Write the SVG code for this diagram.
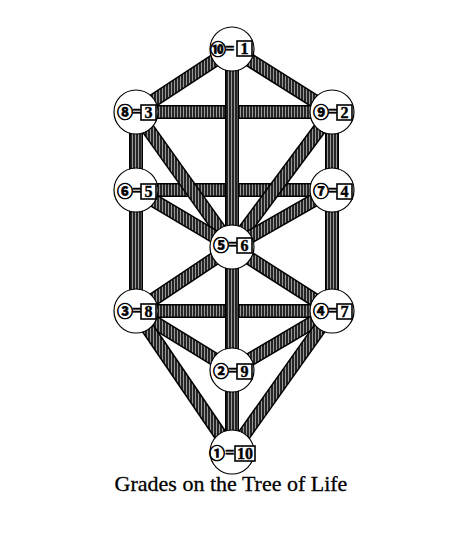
<svg xmlns="http://www.w3.org/2000/svg" width="460" height="555" viewBox="0 0 460 555">
<defs>
<pattern id="hatch" width="3" height="3" patternUnits="userSpaceOnUse"><rect width="3" height="3" fill="#262626"/><rect width="1" height="3" fill="#999"/></pattern>
</defs>
<style>
.o{stroke:#000;stroke-width:14;fill:none}
.f{stroke:url(#hatch);stroke-width:11;fill:none}
.node circle{fill:#fff;stroke:#000;stroke-width:1.2}
.cn{font-family:"Noto Sans CJK JP","DejaVu Sans",sans-serif;font-size:16px;font-weight:bold;fill:#000;stroke:#000;stroke-width:0.7}
.eq{font-family:"Liberation Serif",serif;font-size:17px;font-weight:bold;fill:#000;stroke:#000;stroke-width:0.4}
.bx{fill:#fff;stroke:#000;stroke-width:1.6}
.dg{font-family:"Liberation Serif",serif;font-size:16px;font-weight:bold;fill:#000;stroke:#000;stroke-width:0.4;text-anchor:middle}
.cap{font-family:"Liberation Serif",serif;font-size:22px;fill:#000;stroke:#000;stroke-width:0.3;text-anchor:middle}
</style>
<g id="connectors">
<line class="o" x1="136" y1="112" x2="332" y2="112"/><line class="f" x1="136" y1="112" x2="332" y2="112"/>
<line class="o" x1="136" y1="190" x2="332" y2="190"/><line class="f" x1="136" y1="190" x2="332" y2="190"/>
<line class="o" x1="136" y1="311" x2="332" y2="311"/><line class="f" x1="136" y1="311" x2="332" y2="311"/>
<line class="o" x1="232" y1="49" x2="136" y2="112"/><line class="f" x1="232" y1="49" x2="136" y2="112"/>
<line class="o" x1="232" y1="49" x2="332" y2="112"/><line class="f" x1="232" y1="49" x2="332" y2="112"/>
<line class="o" x1="136" y1="112" x2="232" y2="247"/><line class="f" x1="136" y1="112" x2="232" y2="247"/>
<line class="o" x1="332" y1="112" x2="232" y2="247"/><line class="f" x1="332" y1="112" x2="232" y2="247"/>
<line class="o" x1="136" y1="190" x2="232" y2="247"/><line class="f" x1="136" y1="190" x2="232" y2="247"/>
<line class="o" x1="332" y1="190" x2="232" y2="247"/><line class="f" x1="332" y1="190" x2="232" y2="247"/>
<line class="o" x1="136" y1="311" x2="232" y2="247"/><line class="f" x1="136" y1="311" x2="232" y2="247"/>
<line class="o" x1="332" y1="311" x2="232" y2="247"/><line class="f" x1="332" y1="311" x2="232" y2="247"/>
<line class="o" x1="136" y1="311" x2="232" y2="370"/><line class="f" x1="136" y1="311" x2="232" y2="370"/>
<line class="o" x1="332" y1="311" x2="232" y2="370"/><line class="f" x1="332" y1="311" x2="232" y2="370"/>
<line class="o" x1="136" y1="311" x2="232" y2="452"/><line class="f" x1="136" y1="311" x2="232" y2="452"/>
<line class="o" x1="332" y1="311" x2="232" y2="452"/><line class="f" x1="332" y1="311" x2="232" y2="452"/>
<line class="o" x1="136" y1="112" x2="136" y2="311"/><line class="f" x1="136" y1="112" x2="136" y2="311"/>
<line class="o" x1="332" y1="112" x2="332" y2="311"/><line class="f" x1="332" y1="112" x2="332" y2="311"/>
<line class="o" x1="232" y1="49" x2="232" y2="452"/><line class="f" x1="232" y1="49" x2="232" y2="452"/>
</g>
<g id="n10" class="node"><circle cx="232" cy="49" r="22"/><text class="cn" x="210" y="55">⑩</text><text class="eq" x="225" y="54">=</text><rect class="bx" x="237" y="41" width="15" height="15"/><text class="dg" x="244.5" y="54">1</text></g>
<g id="n8" class="node"><circle cx="136" cy="112" r="22"/><text class="cn" x="117" y="118">⑧</text><text class="eq" x="132" y="117">=</text><rect class="bx" x="141" y="105" width="15" height="15"/><text class="dg" x="148.5" y="118">3</text></g>
<g id="n9" class="node"><circle cx="332" cy="112" r="22"/><text class="cn" x="313" y="118">⑨</text><text class="eq" x="328" y="117">=</text><rect class="bx" x="337" y="105" width="15" height="15"/><text class="dg" x="344.5" y="118">2</text></g>
<g id="n6" class="node"><circle cx="136" cy="190" r="22"/><text class="cn" x="117" y="197">⑥</text><text class="eq" x="132" y="196">=</text><rect class="bx" x="141" y="184" width="15" height="15"/><text class="dg" x="148.5" y="197">5</text></g>
<g id="n7" class="node"><circle cx="332" cy="190" r="22"/><text class="cn" x="313" y="197">⑦</text><text class="eq" x="328" y="196">=</text><rect class="bx" x="337" y="184" width="15" height="15"/><text class="dg" x="344.5" y="197">4</text></g>
<g id="n5" class="node"><circle cx="232" cy="247" r="22"/><text class="cn" x="213" y="251">⑤</text><text class="eq" x="228" y="250">=</text><rect class="bx" x="237" y="238" width="15" height="15"/><text class="dg" x="244.5" y="251">6</text></g>
<g id="n3" class="node"><circle cx="136" cy="311" r="22"/><text class="cn" x="117" y="317">③</text><text class="eq" x="132" y="316">=</text><rect class="bx" x="141" y="304" width="15" height="15"/><text class="dg" x="148.5" y="317">8</text></g>
<g id="n4" class="node"><circle cx="332" cy="311" r="22"/><text class="cn" x="313" y="317">④</text><text class="eq" x="328" y="316">=</text><rect class="bx" x="337" y="304" width="15" height="15"/><text class="dg" x="344.5" y="317">7</text></g>
<g id="n2" class="node"><circle cx="232" cy="370" r="22"/><text class="cn" x="213" y="377">②</text><text class="eq" x="228" y="376">=</text><rect class="bx" x="237" y="364" width="15" height="15"/><text class="dg" x="244.5" y="377">9</text></g>
<g id="n1" class="node"><circle cx="232" cy="452" r="22"/><text class="cn" x="209" y="459">①</text><text class="eq" x="225" y="458">=</text><rect class="bx" x="235" y="446" width="20" height="15"/><text class="dg" x="245" y="459">10</text></g>
<text class="cap" x="231" y="491">Grades on the Tree of Life</text>
</svg>
